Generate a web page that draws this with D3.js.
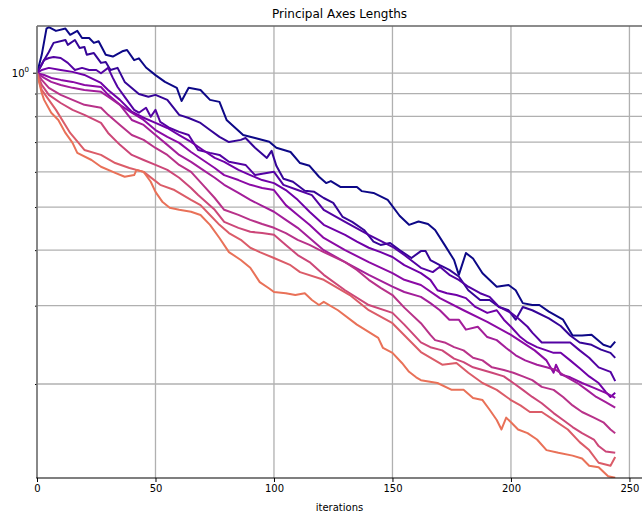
<!DOCTYPE html>
<html>
<head>
<meta charset="utf-8">
<script src="https://cdn.jsdelivr.net/npm/d3@7"></script>
<style>
    body { margin: 0; background: #fff; }
    text { font-family: "DejaVu Sans", sans-serif; }
</style>
</head>
<body>
<svg width="642" height="514"></svg>
<script>
// each series: [iteration, axis length]
var series0 = [[0,1.0],[2,1.10],[4,1.26],[5,1.27],[8,1.245],[12,1.26],[14,1.22],[17,1.245],[19,1.20],[22,1.20],[24,1.17],[26,1.18],[29,1.10],[32,1.09],[36,1.12],[38,1.128],[41,1.07],[43,1.08],[46,1.03],[50,0.99],[54,0.956],[59,0.927],[61,0.866],[64,0.927],[69,0.917],[73,0.871],[77,0.862],[80,0.785],[87,0.726],[92,0.715],[98,0.701],[101,0.68],[107,0.665],[111,0.628],[115,0.619],[119,0.585],[122,0.566],[124,0.572],[128,0.555],[135,0.555],[137,0.543],[142,0.538],[148,0.519],[153,0.478],[157,0.456],[161,0.464],[165,0.458],[168,0.444],[172,0.411],[176,0.380],[178,0.352],[181,0.394],[184,0.383],[188,0.355],[194,0.331],[199,0.334],[202,0.325],[205,0.304],[209,0.301],[212,0.301],[216,0.291],[222,0.279],[226,0.257],[230,0.257],[234,0.258],[239,0.245],[242,0.242],[244,0.249]];
var series1 = [[0,1.0],[3,1.071],[5,1.116],[7,1.17],[12,1.188],[13,1.158],[16,1.188],[18,1.14],[20,1.146],[21,1.10],[24,1.11],[27,1.055],[29,1.06],[31,1.017],[34,1.028],[37,0.956],[41,0.917],[43,0.898],[47,0.885],[50,0.894],[55,0.871],[60,0.806],[64,0.793],[69,0.773],[73,0.745],[77,0.719],[81,0.70],[86,0.708],[88,0.715],[92,0.68],[97,0.645],[99,0.669],[101,0.619],[104,0.579],[108,0.57],[113,0.544],[117,0.541],[121,0.524],[125,0.511],[129,0.475],[133,0.463],[138,0.444],[142,0.418],[145,0.411],[149,0.415],[153,0.40],[158,0.384],[162,0.398],[164,0.398],[166,0.38],[170,0.37],[174,0.361],[178,0.349],[182,0.325],[187,0.309],[191,0.309],[195,0.298],[199,0.293],[202,0.279],[205,0.298],[209,0.293],[216,0.281],[221,0.270],[225,0.257],[229,0.248],[234,0.245],[238,0.239],[242,0.235],[244,0.229]];
var series2 = [[0,1.0],[3,1.071],[5,1.082],[7,1.088],[10,1.082],[13,1.055],[16,1.017],[19,1.028],[22,1.017],[25,1.017],[27,1.0],[30,1.028],[32,0.976],[34,0.931],[37,0.885],[41,0.827],[43,0.815],[46,0.836],[48,0.798],[50,0.827],[52,0.777],[56,0.753],[60,0.738],[64,0.726],[68,0.672],[73,0.662],[77,0.655],[81,0.632],[88,0.622],[92,0.590],[100,0.600],[104,0.561],[110,0.546],[116,0.532],[121,0.493],[130,0.463],[140,0.433],[150,0.407],[155,0.390],[162,0.365],[167,0.357],[170,0.367],[174,0.352],[178,0.343],[182,0.331],[187,0.320],[191,0.314],[195,0.298],[200,0.289],[203,0.281],[207,0.269],[209,0.261],[213,0.248],[220,0.248],[225,0.248],[229,0.238],[233,0.229],[237,0.218],[242,0.213],[244,0.203]];
var series3 = [[0,1.0],[2,1.017],[5,1.028],[10,1.017],[15,1.007],[20,0.991],[27,0.951],[30,0.917],[35,0.871],[40,0.819],[45,0.794],[50,0.773],[55,0.753],[60,0.726],[65,0.701],[70,0.672],[75,0.645],[79,0.632],[85,0.606],[90,0.590],[95,0.575],[100,0.566],[105,0.546],[110,0.519],[115,0.488],[121,0.456],[130,0.433],[135,0.418],[140,0.405],[145,0.396],[150,0.386],[155,0.370],[162,0.355],[166,0.343],[169,0.325],[173,0.320],[177,0.317],[181,0.312],[185,0.298],[190,0.289],[194,0.293],[197,0.279],[200,0.269],[204,0.255],[207,0.248],[211,0.242],[215,0.238],[218,0.235],[221,0.235],[225,0.226],[229,0.217],[233,0.208],[237,0.201],[240,0.192],[242,0.187],[244,0.191]];
var series4 = [[0,1.0],[3,0.991],[6,0.976],[10,0.966],[15,0.956],[20,0.941],[27,0.931],[30,0.894],[35,0.849],[40,0.815],[45,0.785],[50,0.745],[55,0.719],[60,0.697],[65,0.665],[70,0.638],[75,0.612],[79,0.590],[85,0.575],[90,0.561],[95,0.552],[100,0.546],[105,0.505],[110,0.480],[115,0.456],[121,0.426],[130,0.400],[140,0.376],[150,0.355],[155,0.343],[162,0.334],[170,0.312],[180,0.293],[190,0.276],[200,0.258],[210,0.238],[215,0.226],[218,0.212],[219,0.221],[221,0.210],[225,0.207],[230,0.201],[235,0.196],[240,0.191],[244,0.186]];
var series5 = [[0,1.0],[3,0.976],[6,0.956],[10,0.941],[15,0.927],[20,0.917],[27,0.908],[30,0.885],[35,0.849],[40,0.785],[45,0.765],[50,0.726],[55,0.690],[60,0.655],[65,0.632],[70,0.606],[75,0.582],[79,0.561],[85,0.538],[90,0.519],[95,0.503],[100,0.488],[105,0.468],[110,0.449],[115,0.426],[121,0.400],[130,0.376],[140,0.352],[150,0.331],[155,0.322],[162,0.314],[166,0.304],[170,0.293],[174,0.279],[178,0.279],[181,0.265],[186,0.269],[190,0.255],[194,0.251],[198,0.241],[202,0.232],[206,0.226],[211,0.221],[215,0.218],[219,0.215],[223,0.208],[228,0.201],[232,0.194],[236,0.187],[240,0.182],[244,0.177]];
var series6 = [[0,1.0],[2,0.966],[5,0.927],[10,0.894],[15,0.871],[20,0.849],[27,0.836],[30,0.806],[35,0.765],[40,0.726],[45,0.708],[50,0.679],[55,0.655],[60,0.622],[65,0.600],[70,0.561],[75,0.524],[79,0.493],[85,0.480],[90,0.468],[95,0.458],[100,0.449],[105,0.437],[110,0.422],[115,0.411],[121,0.396],[130,0.376],[135,0.361],[140,0.343],[145,0.329],[150,0.317],[155,0.297],[162,0.274],[166,0.258],[168,0.251],[172,0.248],[176,0.242],[180,0.238],[184,0.229],[188,0.226],[192,0.218],[197,0.215],[201,0.212],[205,0.208],[209,0.204],[213,0.197],[218,0.194],[222,0.187],[226,0.179],[230,0.173],[235,0.168],[239,0.164],[242,0.158],[244,0.155]];
var series7 = [[0,1.0],[2,0.941],[5,0.894],[10,0.857],[15,0.827],[20,0.806],[27,0.773],[30,0.734],[35,0.690],[40,0.655],[45,0.638],[50,0.622],[55,0.606],[60,0.582],[65,0.552],[68,0.532],[75,0.493],[79,0.463],[85,0.449],[90,0.440],[95,0.437],[100,0.433],[105,0.411],[110,0.390],[115,0.376],[121,0.352],[130,0.325],[140,0.301],[150,0.289],[155,0.272],[162,0.248],[166,0.242],[171,0.238],[176,0.228],[180,0.224],[184,0.218],[188,0.215],[192,0.212],[197,0.208],[201,0.201],[205,0.194],[209,0.187],[213,0.181],[218,0.172],[222,0.166],[226,0.160],[230,0.155],[235,0.150],[237,0.145],[240,0.141],[244,0.140]];
var series8 = [[0,1.0],[2,0.917],[8,0.827],[14,0.734],[20,0.672],[27,0.655],[33,0.628],[39,0.612],[45,0.600],[52,0.561],[58,0.546],[65,0.519],[69,0.505],[73,0.480],[77,0.456],[81,0.437],[86,0.422],[90,0.405],[94,0.396],[100,0.384],[107,0.370],[111,0.357],[121,0.343],[132,0.317],[140,0.293],[150,0.274],[162,0.236],[171,0.221],[177,0.223],[182,0.212],[188,0.201],[194,0.194],[200,0.184],[204,0.179],[208,0.173],[213,0.173],[218,0.166],[224,0.158],[229,0.148],[233,0.142],[237,0.133],[242,0.131],[244,0.137]];
var series9 = [[0,1.0],[2,0.903],[3,0.871],[6,0.815],[9,0.785],[12,0.734],[15,0.697],[17,0.662],[23,0.638],[27,0.616],[33,0.597],[37,0.585],[41,0.590],[42,0.606],[45,0.600],[48,0.570],[50,0.541],[53,0.513],[56,0.498],[60,0.493],[65,0.488],[69,0.480],[73,0.456],[77,0.426],[81,0.396],[86,0.380],[90,0.365],[94,0.339],[98,0.328],[100,0.322],[105,0.320],[109,0.317],[113,0.320],[116,0.309],[119,0.301],[121,0.306],[127,0.293],[135,0.272],[144,0.254],[146,0.241],[150,0.235],[154,0.223],[157,0.213],[160,0.207],[162,0.204],[169,0.201],[175,0.194],[180,0.194],[184,0.186],[188,0.184],[191,0.175],[194,0.166],[196,0.158],[198,0.168],[200,0.164],[203,0.158],[207,0.155],[211,0.150],[215,0.142],[220,0.140],[226,0.138],[230,0.136],[233,0.131],[237,0.130],[241,0.124],[244,0.123]];

var allSeries = [series0, series1, series2, series3, series4, series5, series6, series7, series8, series9];

var xTicks = [0, 50, 100, 150, 200, 250];
var yMajorTicks = [1];
var yMinorTicks = [0.2, 0.3, 0.4, 0.5, 0.6, 0.7, 0.8, 0.9];

var plotLeft = 37, plotRight = 642, plotTop = 26, plotBottom = 478;

var xScale = d3.scaleLinear().domain([0, 255.3]).range([plotLeft, plotRight]);
var yScale = d3.scaleLog().domain([0.1229, 1.277]).range([plotBottom, plotTop]);

var svg = d3.select('svg');

// grid lines
svg.append('g').selectAll('line')
    .data(xTicks)
    .enter().append('line')
    .attr('x1', function(d) { return xScale(d); })
    .attr('x2', function(d) { return xScale(d); })
    .attr('y1', plotTop).attr('y2', plotBottom)
    .attr('stroke', '#b0b0b0').attr('stroke-width', 1.3);

svg.append('g').selectAll('line')
    .data(yMajorTicks.concat(yMinorTicks))
    .enter().append('line')
    .attr('x1', plotLeft).attr('x2', plotRight)
    .attr('y1', function(d) { return yScale(d); })
    .attr('y2', function(d) { return yScale(d); })
    .attr('stroke', '#b0b0b0').attr('stroke-width', 1.3);

// the lines
svg.append('clipPath').attr('id', 'plotclip')
    .append('rect')
    .attr('x', plotLeft).attr('y', plotTop)
    .attr('width', plotRight - plotLeft).attr('height', plotBottom - plotTop);

var line = d3.line()
    .x(function(d) { return xScale(d[0]); })
    .y(function(d) { return yScale(d[1]); });

svg.append('g').attr('clip-path', 'url(#plotclip)')
    .selectAll('path')
    .data(allSeries)
    .enter().append('path')
    .attr('d', line)
    .attr('fill', 'none')
    .attr('stroke', function(d, i) { return d3.interpolatePlasma(i / 14); })
    .attr('stroke-width', 2)
    .attr('stroke-linejoin', 'round');

// axes
var xAxis = svg.append('g')
    .attr('transform', 'translate(0,' + plotBottom + ')')
    .call(d3.axisBottom(xScale).tickValues(xTicks).tickSize(4).tickPadding(3));
xAxis.select('.domain').remove();
xAxis.selectAll('text').attr('font-size', 10).attr('fill', '#000')
    .style('font-family', '"DejaVu Sans", sans-serif');

var yAxis = svg.append('g')
    .attr('transform', 'translate(' + plotLeft + ',0)')
    .call(d3.axisLeft(yScale).tickValues(yMinorTicks).tickSize(2).tickFormat(''));
yAxis.select('.domain').remove();

svg.append('g').selectAll('line')
    .data(yMajorTicks)
    .enter().append('line')
    .attr('x1', plotLeft - 4).attr('x2', plotLeft)
    .attr('y1', function(d) { return yScale(d); })
    .attr('y2', function(d) { return yScale(d); })
    .attr('stroke', '#000');

var majorLabel = svg.append('g').selectAll('text')
    .data(yMajorTicks)
    .enter().append('text')
    .attr('x', plotLeft - 8)
    .attr('y', function(d) { return yScale(d) + 4; })
    .attr('text-anchor', 'end')
    .attr('font-size', 10);
majorLabel.append('tspan').text('10');
majorLabel.append('tspan').attr('dy', -5).attr('font-size', 7)
    .text(function(d) { return Math.round(Math.log10(d)); });

// spines
svg.append('line').attr('x1', plotLeft).attr('x2', plotRight).attr('y1', plotTop).attr('y2', plotTop)
    .attr('stroke', '#666').attr('stroke-width', 1.6);
svg.append('line').attr('x1', plotLeft).attr('x2', plotLeft).attr('y1', plotTop).attr('y2', plotBottom)
    .attr('stroke', '#777').attr('stroke-width', 1.6);
svg.append('line').attr('x1', plotLeft - 0.8).attr('x2', plotRight).attr('y1', plotBottom).attr('y2', plotBottom)
    .attr('stroke', '#000').attr('stroke-width', 1.2);

// labels
svg.append('text')
    .attr('x', (plotLeft + plotRight) / 2).attr('y', 18)
    .attr('text-anchor', 'middle')
    .attr('font-size', 12)
    .text('Principal Axes Lengths');

svg.append('text')
    .attr('x', (plotLeft + plotRight) / 2).attr('y', 511)
    .attr('text-anchor', 'middle')
    .attr('font-size', 10)
    .text('iterations');
</script>
</body>
</html>
